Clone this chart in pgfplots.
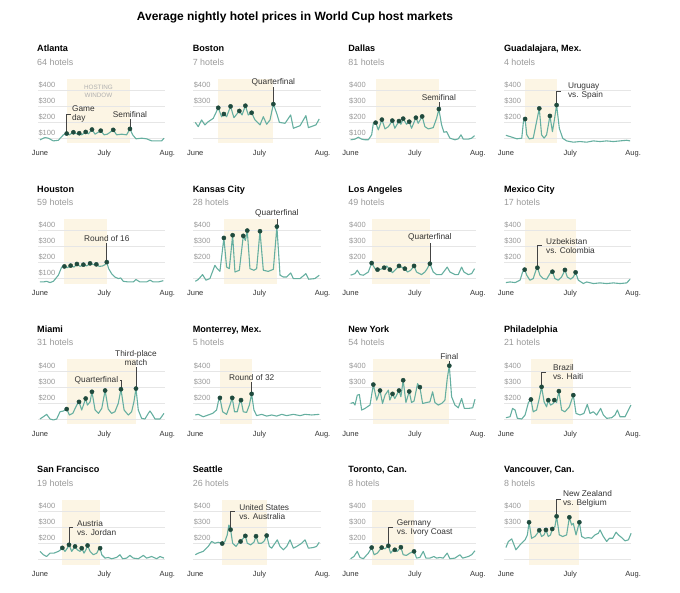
\documentclass[border=0pt]{standalone}
\usepackage{pgfplots}
\pgfplotsset{compat=1.18}
\usepackage{fontspec}
\setmainfont{Liberation Sans}
\definecolor{linec}{HTML}{66AFA0}
\definecolor{dotc}{HTML}{1F4A3D}
\definecolor{winc}{HTML}{FCF5E4}
\definecolor{gridc}{HTML}{E6E6E6}
\definecolor{tickc}{HTML}{999999}
\definecolor{subc}{HTML}{999999}
\definecolor{annc}{HTML}{333333}
\definecolor{leadc}{HTML}{444444}
\definecolor{hwc}{HTML}{B0B0B0}
\tikzset{
  ann/.style={font=\fontsize{8.3}{9}\selectfont, text=annc, inner sep=1.2pt},
  ttl/.style={anchor=base west, inner sep=0pt, font=\fontsize{9.1}{11}\selectfont\bfseries},
  sub/.style={anchor=base west, inner sep=0pt, text=subc, font=\fontsize{8.9}{11}\selectfont},
}
\pgfplotsset{
  panel/.style={
    anchor=south west, scale only axis, width=129.4pt, height=64.8pt,
    xmin=-1, xmax=61, ymin=68, ymax=473, clip=false,
    axis line style={draw=none}, major tick length=0pt, tick style={draw=none},
    xtick={0,30.8,61}, xticklabels={June,July,Aug.},
    ytick={100,200,300,400},
    xticklabel style={anchor=base, yshift=-12.2pt, inner sep=0pt, font=\fontsize{7.5}{9}\selectfont, text=annc},
    yticklabel style={anchor=base west, xshift=0.4pt, yshift=2.8pt, inner sep=0pt, font=\fontsize{7.5}{9}\selectfont, text=tickc},
  },
  ln/.style={draw=linec, line width=1.1pt, line join=round, mark=none},
  dt/.style={only marks, mark=*, mark size=2.1pt, draw=dotc, fill=dotc, mark options={solid, draw=dotc, fill=dotc}},
}
\newcommand{\win}[2]{\fill[winc] (axis cs:#1,68) rectangle (axis cs:#2,473);}
\newcommand{\grd}{\draw[gridc,line width=0.6pt] (axis cs:-1,100) -- (axis cs:60,100) (axis cs:-1,200) -- (axis cs:60,200) (axis cs:-1,300) -- (axis cs:60,300) (axis cs:-1,400) -- (axis cs:60,400);}
\newcommand{\annTop}[4]{\draw[leadc,line width=0.6pt] (axis cs:#1,#2) -- (axis cs:#1,#3); \node[ann,anchor=south,align=center] at (axis cs:#1,#3) {#4};}
\newcommand{\annSide}[5]{\draw[leadc,line width=0.6pt] (axis cs:#1,#2) -- (axis cs:#1,#3) -- ([xshift=4.5pt]axis cs:#1,#3); \node[ann,anchor=west,align=left] at (axis cs:#4,#3) {#5};}
\begin{document}
\begin{tikzpicture}
\path (0,0) rectangle (680pt,-592pt);
\node[anchor=base west, inner sep=0pt, font=\fontsize{12}{14}\selectfont\bfseries] at (136.7pt,-20.7pt) {Average nightly hotel prices in World Cup host markets};

% ---------- Row 1 ----------
\begin{axis}[panel, at={(37.9pt,-143.3pt)}, yticklabels={\$100,\$200,\$300,\$400}]
\win{12.8}{43.1}\grd
\addplot[ln] coordinates {(0,90)(2.4,104)(4,100)(6.4,83)(8.8,87)(11.2,121)(12.8,129)(14.1,121)(16,137)(17.6,127)(18.8,131)(20,121)(21.9,139)(23.2,127)(24.9,154)(26.4,125)(29.1,147)(30.7,121)(32.3,125)(35.1,152)(36.7,121)(39.1,125)(41.5,121)(43.1,158)(44.4,121)(46,96)(48.7,100)(51.1,96)(53.5,83)(55.9,83)(58.3,83)(59.4,100)};
\node[align=center, inner sep=0pt, text=hwc, font=\fontsize{6.3}{8.2}\selectfont] at (axis cs:28,394) {HOSTING\\WINDOW};
\annTop{43.1}{158}{222}{Semifinal}
\annSide{12.8}{129}{249}{14.7}{Game\\day}
\addplot[dt] coordinates {(12.8,129)(16,137)(18.8,131)(21.9,139)(24.9,154)(29.1,147)(35.1,152)(43.1,158)};
\end{axis}
\node[ttl] at (37pt,-51.7pt) {Atlanta};
\node[sub] at (37pt,-65pt) {64 hotels};

\begin{axis}[panel, at={(193.2pt,-143.3pt)}, yticklabels={,,\$300,\$400}]
\win{11}{37.4}\grd
\addplot[ln] coordinates {(0,199)(1.4,172)(3,214)(4.6,183)(6.2,203)(8.6,224)(11,290)(12.6,234)(13.7,251)(15,234)(16.9,299)(18.5,228)(21.1,270)(22.4,245)(24,303)(25.4,245)(27,259)(28.6,214)(31,183)(32.6,234)(34.2,187)(35.8,214)(37.4,313)(39,255)(40.3,199)(43,193)(45.7,245)(47,162)(50.2,178)(53,241)(54.2,166)(57.8,183)(59.4,220)};
\annTop{37.4}{313}{418}{Quarterfinal}
\addplot[dt] coordinates {(11,290)(13.7,251)(16.9,299)(21.1,270)(24,303)(27,259)(37.4,313)};
\end{axis}
\node[ttl] at (192.6pt,-51.7pt) {Boston};
\node[sub] at (192.6pt,-65pt) {7 hotels};

\begin{axis}[panel, at={(348.5pt,-143.3pt)}, yticklabels={\$100,\$200,\$300,\$400}]
\win{12}{42.3}\grd
\addplot[ln] coordinates {(0,90)(2.1,94)(3.7,106)(5.3,94)(6.9,90)(8.5,90)(10.1,121)(10.9,193)(12,197)(13.3,152)(15,216)(16.5,158)(18.1,172)(20,210)(21.2,162)(23.2,207)(24.1,187)(25.2,222)(26.8,187)(28.1,203)(29.2,162)(31.3,228)(32.4,193)(34.3,236)(35.6,172)(37.2,158)(39.6,166)(41.2,224)(42.3,282)(43.6,183)(44.7,137)(46,141)(47.6,100)(50,90)(51.6,96)(52.9,121)(54,94)(56.4,94)(58,100)(59.4,116)};
\annTop{42.3}{282}{328}{Semifinal}
\addplot[dt] coordinates {(12,197)(15,216)(20,210)(23.2,207)(25.2,222)(28.1,203)(31.3,228)(34.3,236)(42.3,282)};
\end{axis}
\node[ttl] at (348.2pt,-51.7pt) {Dallas};
\node[sub] at (348.2pt,-65pt) {81 hotels};

\begin{axis}[panel, at={(503.8pt,-143.3pt)}, yticklabels={,\$200,\$300,\$400}]
\win{9.2}{24.3}\grd
\addplot[ln] coordinates {(0,118)(2,110)(5.2,96)(7.6,100)(8.4,203)(9.2,220)(10,121)(11.2,96)(13.1,100)(14.7,203)(16,286)(17.1,121)(18.3,100)(19.5,121)(21.1,239)(22.3,141)(23.1,203)(24.3,307)(25.6,162)(27.2,100)(29.1,83)(32.3,75)(35.5,79)(38.7,75)(41.9,83)(45.1,79)(48.3,83)(51.5,79)(54.7,83)(57.9,87)(59.5,83)};
\annSide{24.3}{307}{394}{29.1}{Uruguay\\vs. Spain}
\addplot[dt] coordinates {(9.2,220)(16,286)(21.1,239)(24.3,307)};
\end{axis}
\node[ttl] at (503.8pt,-51.7pt) {Guadalajara, Mex.};
\node[sub] at (503.8pt,-65pt) {4 hotels};

% ---------- Row 2 ----------
\begin{axis}[panel, at={(37.9pt,-283.7pt)}, yticklabels={\$100,\$200,\$300,\$400}]
\win{11.7}{32}\grd
\addplot[ln] coordinates {(0,79)(1.6,79)(3.2,83)(4.8,75)(6.4,83)(8.8,121)(10.4,172)(11.7,176)(13.1,168)(14.7,181)(16.3,172)(17.7,191)(19.2,176)(20.8,187)(22.4,179)(24,195)(25.6,187)(27,189)(28.4,176)(30,179)(31.2,187)(32,203)(32.9,162)(34.3,131)(35.9,110)(37.5,100)(38.7,104)(39.9,83)(42.3,79)(44.7,79)(46,94)(47.9,79)(51.1,79)(52.7,90)(54.3,79)(56.7,79)(59.1,87)};
\annTop{32}{203}{325}{Round of 16}
\addplot[dt] coordinates {(11.7,176)(14.7,181)(17.7,191)(20.8,187)(24,195)(27,189)(32,203)};
\end{axis}
\node[ttl] at (37pt,-192.1pt) {Houston};
\node[sub] at (37pt,-205.4pt) {59 hotels};

\begin{axis}[panel, at={(193.2pt,-283.7pt)}, yticklabels={,\$200,\$300,\$400}]
\win{13.7}{39.1}\grd
\addplot[ln] coordinates {(0,83)(1.4,94)(3.5,125)(5.1,90)(7,100)(9.4,183)(10.5,162)(11.8,145)(13.7,354)(15,172)(16.3,162)(17.9,371)(19,141)(21.1,152)(23,367)(24,338)(24.9,400)(26.2,162)(28.1,152)(29.4,162)(31,396)(32.6,152)(35,145)(37.4,158)(39.1,425)(40.6,121)(42.2,110)(43.8,110)(45.7,135)(47,100)(50.2,100)(53,131)(54.3,96)(57.3,100)(59.4,121)};
\annTop{39.1}{425}{474}{Quarterfinal}
\addplot[dt] coordinates {(13.7,354)(17.9,371)(23,367)(24.9,400)(31,396)(39.1,425)};
\end{axis}
\node[ttl] at (192.6pt,-192.1pt) {Kansas City};
\node[sub] at (192.6pt,-205.4pt) {28 hotels};

\begin{axis}[panel, at={(348.5pt,-283.7pt)}, yticklabels={,\$200,\$300,\$400}]
\win{10.1}{38}\grd
\addplot[ln] coordinates {(0,121)(2.1,131)(3.2,152)(4.5,125)(6.1,121)(8.5,141)(10.1,197)(11.7,162)(12.9,156)(14.4,158)(16.1,168)(17.3,179)(18.8,156)(20.1,137)(21.7,158)(23.2,179)(24.4,172)(26,162)(27.3,141)(28.8,152)(30.4,179)(31.6,141)(34,125)(35.6,141)(36.7,162)(38,193)(39.6,141)(41.2,125)(43.6,125)(45.2,152)(46.3,172)(47.6,141)(50,125)(51.6,125)(53.2,172)(54.3,141)(56.4,125)(58,131)(59.4,162)};
\annTop{38}{193}{325}{Quarterfinal}
\addplot[dt] coordinates {(10.1,197)(12.9,156)(16.1,168)(18.8,156)(23.2,179)(26,162)(30.4,179)(38,193)};
\end{axis}
\node[ttl] at (348.2pt,-192.1pt) {Los Angeles};
\node[sub] at (348.2pt,-205.4pt) {49 hotels};

\begin{axis}[panel, at={(503.8pt,-283.7pt)}, yticklabels={,\$200,\$300,\$400}]
\win{9}{33.4}\grd
\addplot[ln] coordinates {(0,75)(2,79)(4.4,75)(6.8,90)(8,141)(9,156)(10,121)(11.5,90)(13.1,100)(14.4,152)(15.1,168)(16.3,121)(17.9,100)(19.5,96)(21.1,131)(22.3,143)(23.5,100)(25.1,90)(26.7,110)(28.3,154)(29.4,110)(31,96)(32.3,110)(33.4,139)(34.7,90)(37.1,69)(38.7,79)(41.9,69)(45.1,73)(48.3,69)(51.5,73)(54.7,69)(57.9,73)(59.5,96)};
\annSide{15.1}{168}{305}{18.6}{Uzbekistan\\vs. Colombia}
\addplot[dt] coordinates {(9,156)(15.1,168)(22.3,143)(28.3,154)(33.4,139)};
\end{axis}
\node[ttl] at (503.8pt,-192.1pt) {Mexico City};
\node[sub] at (503.8pt,-205.4pt) {17 hotels};

% ---------- Row 3 ----------
\begin{axis}[panel, at={(37.9pt,-424.1pt)}, yticklabels={,\$200,\$300,\$400}]
\win{12.8}{46}\grd
\addplot[ln] coordinates {(0,100)(1.6,114)(3.2,129)(4.8,100)(6.4,94)(8,100)(9.6,145)(11.2,150)(12.8,162)(14.1,125)(15.7,135)(17.6,187)(18.7,207)(20,156)(20.8,187)(21.9,228)(22.7,187)(24,207)(24.9,270)(26.4,156)(28,135)(29.6,166)(31.2,278)(32.7,162)(34.3,135)(35.9,145)(37.5,197)(38.8,286)(40.3,156)(42.3,125)(43.9,145)(45,207)(46,290)(47.1,156)(48.7,104)(50.3,100)(51.9,135)(52.7,150)(54,125)(55.1,100)(57.5,100)(59.4,135)};
\draw[leadc,line width=0.6pt] (axis cs:38.8,286) -- (axis cs:38.8,343) -- (axis cs:38.1,343);
\node[ann,anchor=east] at (axis cs:38.1,343) {Quarterfinal};
\annTop{46}{290}{428}{Third-place\\match}
\addplot[dt] coordinates {(12.8,162)(18.7,207)(21.9,228)(24.9,270)(31.2,278)(38.8,286)(46,290)};
\end{axis}
\node[ttl] at (37pt,-332.5pt) {Miami};
\node[sub] at (37pt,-345.8pt) {31 hotels};

\begin{axis}[panel, at={(193.2pt,-424.1pt)}, yticklabels={,\$200,\$300,\$400}]
\win{11.8}{27}\grd
\addplot[ln] coordinates {(0,125)(1.4,129)(3.8,114)(6.2,125)(8.3,135)(10.2,156)(11,207)(11.8,232)(13.1,145)(15,129)(16.6,187)(17.7,232)(18.8,145)(20.1,145)(21.1,197)(21.9,218)(23,145)(24.6,141)(25.9,187)(27,257)(28.1,156)(29.4,121)(31.8,129)(34.2,118)(36.6,125)(39,118)(41.4,129)(43.8,121)(47,129)(50.2,121)(52.6,129)(55.8,125)(59.4,129)};
\annTop{27}{257}{329}{Round of 32}
\addplot[dt] coordinates {(11.8,232)(17.7,232)(21.9,218)(27,257)};
\end{axis}
\node[ttl] at (192.6pt,-332.5pt) {Monterrey, Mex.};
\node[sub] at (192.6pt,-345.8pt) {5 hotels};

\begin{axis}[panel, at={(348.5pt,-424.1pt)}, yticklabels={,,\$300,\$400}]
\win{10.9}{47.3}\grd
\addplot[ln] coordinates {(0,197)(1.3,203)(2.1,187)(3.2,249)(4.2,253)(5.3,156)(6.9,166)(9.3,187)(10.9,315)(12.5,218)(14.1,278)(15.3,197)(16.5,249)(18.1,280)(18.8,218)(20.1,257)(21.2,228)(23.2,278)(24.1,239)(25.2,342)(26.5,203)(28.1,272)(29.2,203)(30.4,212)(32.1,321)(33.2,299)(34.5,197)(36.4,203)(38,207)(39.3,270)(40.4,203)(42,187)(43.6,197)(45.2,218)(46.3,352)(47.3,433)(48.4,239)(50,187)(51.6,170)(53.2,228)(54.5,166)(56.4,166)(58.5,170)(59.6,224)};
\annTop{47.3}{433}{465}{Final}
\addplot[dt] coordinates {(10.9,315)(14.1,278)(20.1,257)(23.2,278)(25.2,342)(28.1,272)(33.2,299)(47.3,433)};
\end{axis}
\node[ttl] at (348.2pt,-332.5pt) {New York};
\node[sub] at (348.2pt,-345.8pt) {54 hotels};

\begin{axis}[panel, at={(503.8pt,-424.1pt)}, yticklabels={,\$200,\$300,\$400}]
\win{12}{32.3}\grd
\addplot[ln] coordinates {(0,108)(2,114)(3.2,166)(4.4,156)(5.5,104)(7.6,100)(9.2,125)(10.8,203)(12,222)(13.1,145)(14.7,156)(16,228)(17.1,301)(18.3,207)(19.5,176)(20.3,218)(21.4,187)(22.7,197)(23.2,218)(24.3,203)(25.4,274)(26.7,156)(28.3,145)(30.4,176)(32.3,249)(33.6,135)(35.5,125)(37.4,135)(39,191)(40.3,135)(41.9,145)(43.5,125)(45.4,166)(46.7,125)(48.3,104)(50.7,108)(52.3,125)(53.4,156)(54.7,114)(57.1,114)(59.9,187)};
\annSide{17.1}{301}{394}{21.9}{Brazil\\vs. Haiti}
\addplot[dt] coordinates {(12,222)(17.1,301)(20.3,218)(23.2,218)(25.4,274)(32.3,249)};
\end{axis}
\node[ttl] at (503.8pt,-332.5pt) {Philadelphia};
\node[sub] at (503.8pt,-345.8pt) {21 hotels};

% ---------- Row 4 ----------
\begin{axis}[panel, at={(37.9pt,-564.5pt)}, yticklabels={,\$200,\$300,\$400}]
\win{10.7}{28.8}\grd
\addplot[ln] coordinates {(0,150)(1.6,129)(3.2,118)(4.8,139)(6.7,139)(8.8,150)(9.9,160)(10.7,172)(12,150)(13.1,170)(13.9,191)(15.2,150)(16.8,181)(17.9,160)(19.2,150)(20,170)(21.1,139)(22,160)(22.8,187)(24,150)(25.6,129)(27.2,139)(28,160)(28.8,170)(29.6,129)(31.2,108)(32.7,112)(34.3,104)(36.7,112)(38.3,129)(39.6,104)(41.5,108)(43.1,125)(44.7,108)(47.1,104)(49.5,125)(51.1,108)(53.5,118)(55.9,104)(57.5,118)(59.4,108)};
\annSide{13.9}{191}{299}{17.1}{Austria\\vs. Jordan}
\addplot[dt] coordinates {(10.7,172)(13.9,191)(16.8,181)(20,170)(22.8,187)(28.8,170)};
\end{axis}
\node[ttl] at (37pt,-472.9pt) {San Francisco};
\node[sub] at (37pt,-486.2pt) {19 hotels};

\begin{axis}[panel, at={(193.2pt,-564.5pt)}, yticklabels={,\$200,\$300,\$400}]
\win{13}{34.2}\grd
\addplot[ln] coordinates {(0,129)(1.4,139)(3.8,150)(6.2,181)(7.8,212)(9.4,201)(11,207)(12.9,199)(14.2,212)(15.3,253)(16.1,315)(16.9,286)(17.9,201)(19.5,181)(20.6,201)(21.7,212)(23,232)(24,247)(24.9,201)(26.5,191)(28.1,207)(29.1,245)(30.2,201)(31.8,201)(33.1,216)(34.2,249)(35.5,181)(36.6,170)(38.2,201)(39.3,222)(40.6,181)(42.2,160)(43.8,181)(45.4,222)(47,170)(48.6,181)(51,201)(52.6,222)(54.2,170)(56.5,174)(58.1,181)(59.4,207)};
\annSide{16.9}{286}{398}{20.4}{United States\\vs. Australia}
\addplot[dt] coordinates {(12.9,199)(16.9,286)(21.7,212)(24,247)(29.1,245)(34.2,249)};
\end{axis}
\node[ttl] at (192.6pt,-472.9pt) {Seattle};
\node[sub] at (192.6pt,-486.2pt) {26 hotels};

\begin{axis}[panel, at={(348.5pt,-564.5pt)}, yticklabels={,\$200,\$300,\$400}]
\win{10.1}{30.4}\grd
\addplot[ln] coordinates {(0,104)(1.6,118)(3.2,150)(4.5,112)(6.1,104)(8.5,139)(10.1,174)(11.3,129)(12.8,139)(14.9,174)(16.5,166)(18.1,185)(19.2,139)(20.1,154)(21.2,160)(22.4,150)(24.1,176)(25.2,129)(26.8,125)(28.4,139)(30.4,150)(31.6,108)(33.2,112)(34.8,150)(36.1,108)(38,108)(39.9,118)(41.2,108)(42.8,112)(44.4,108)(46.3,139)(47.6,104)(50,108)(52.4,129)(53.7,108)(56.4,118)(58,129)(59.6,154)};
\annSide{18.1}{185}{299}{21.5}{Germany\\vs. Ivory Coast}
\addplot[dt] coordinates {(10.1,174)(14.9,174)(18.1,185)(21.2,160)(24.1,176)(30.4,150)};
\end{axis}
\node[ttl] at (348.2pt,-472.9pt) {Toronto, Can.};
\node[sub] at (348.2pt,-486.2pt) {8 hotels};

\begin{axis}[panel, at={(503.8pt,-564.5pt)}, yticklabels={,,\$300,\$400}]
\win{11.1}{35.2}\grd
\addplot[ln] coordinates {(0,174)(1.2,212)(2.8,228)(3.6,201)(4.8,160)(6.8,191)(9.2,222)(10.3,253)(11.1,332)(12.3,232)(13.9,243)(15.1,263)(16,282)(17.1,243)(18.3,253)(19.2,284)(20.3,243)(21.4,253)(22.2,290)(23.5,305)(24.3,369)(25.6,253)(27.2,243)(29.1,253)(30.4,363)(31.5,315)(32.3,325)(33.6,253)(35.2,332)(36.3,243)(37.9,232)(39.5,236)(41.1,232)(42.7,253)(44.3,263)(45.1,284)(46.7,243)(48.3,212)(49.6,232)(51.2,232)(52.8,270)(53.9,253)(55.5,236)(57.1,216)(58.7,222)(60,263)};
\annSide{24.3}{369}{477}{26.7}{New Zealand\\vs. Belgium}
\addplot[dt] coordinates {(11.1,332)(16,282)(19.2,284)(22.2,290)(24.3,369)(30.4,363)(35.2,332)};
\end{axis}
\node[ttl] at (503.8pt,-472.9pt) {Vancouver, Can.};
\node[sub] at (503.8pt,-486.2pt) {8 hotels};
\end{tikzpicture}
\end{document}
